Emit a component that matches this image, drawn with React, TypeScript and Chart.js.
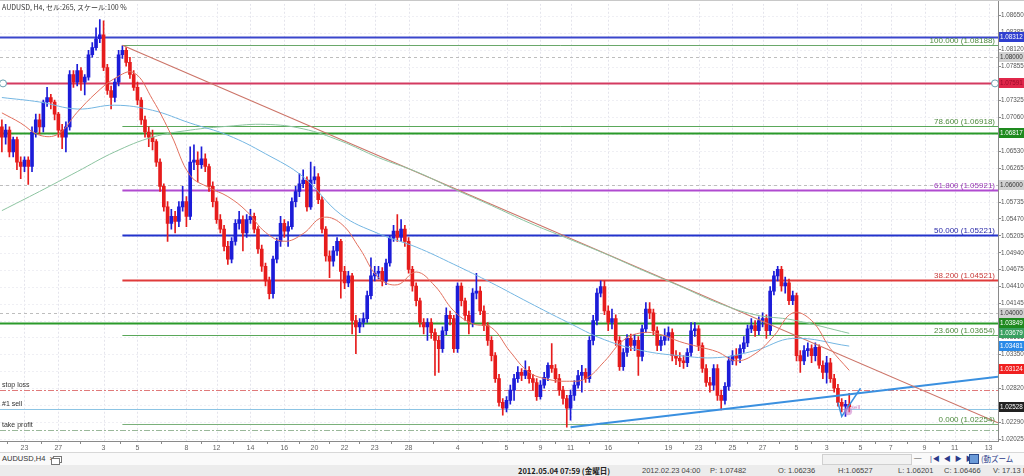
import React, { useEffect, useRef } from "react";
import { Chart, registerables } from "chart.js";
Chart.register(...registerables);

// ---------- candle data (AUDUSD H4) ----------
const opens = [
  1.0691, 1.0675, 1.0686, 1.0652, 1.0671, 1.0636, 1.0629, 1.0639, 1.0629, 1.0683,
  1.0702, 1.0691, 1.0730, 1.0737, 1.0730, 1.0711, 1.0686, 1.0675, 1.0691, 1.0773,
  1.0761, 1.0779, 1.0761, 1.0769, 1.0804, 1.0815, 1.0829, 1.0835, 1.0784, 1.0748,
  1.0737, 1.0761, 1.0804, 1.0811, 1.0792, 1.0773, 1.0753, 1.0733, 1.0702, 1.0683,
  1.0675, 1.0668, 1.0636, 1.0598, 1.0566, 1.0540, 1.0551, 1.0543, 1.0566, 1.0574,
  1.0551, 1.0636, 1.0639, 1.0632, 1.0641, 1.0629, 1.0598, 1.0574, 1.0546, 1.0531,
  1.0504, 1.0484, 1.0512, 1.0540, 1.0546, 1.0525, 1.0546, 1.0551, 1.0531, 1.0500,
  1.0473, 1.0450, 1.0430, 1.0484, 1.0512, 1.0540, 1.0528, 1.0535, 1.0574, 1.0590,
  1.0602, 1.0608, 1.0566, 1.0608, 1.0613, 1.0577, 1.0531, 1.0489, 1.0481, 1.0497,
  1.0512, 1.0465, 1.0447, 1.0458, 1.0388, 1.0378, 1.0385, 1.0391, 1.0427, 1.0458,
  1.0462, 1.0465, 1.0450, 1.0478, 1.0517, 1.0528, 1.0518, 1.0531, 1.0512, 1.0468,
  1.0442, 1.0419, 1.0385, 1.0378, 1.0385, 1.0369, 1.0357, 1.0344, 1.0372, 1.0396,
  1.0391, 1.0344, 1.0442, 1.0419, 1.0396, 1.0385, 1.0431, 1.0434, 1.0403, 1.0380,
  1.0357, 1.0333, 1.0297, 1.0260, 1.0251, 1.0263, 1.0279, 1.0297, 1.0307, 1.0302,
  1.0310, 1.0297, 1.0291, 1.0269, 1.0287, 1.0299, 1.0318, 1.0313, 1.0297, 1.0279,
  1.0266, 1.0251, 1.0271, 1.0287, 1.0302, 1.0307, 1.0297, 1.0357, 1.0388, 1.0431,
  1.0441, 1.0403, 1.0385, 1.0391, 1.0357, 1.0316, 1.0338, 1.0360, 1.0349, 1.0357,
  1.0332, 1.0375, 1.0406, 1.0400, 1.0372, 1.0349, 1.0357, 1.0363, 1.0369, 1.0333,
  1.0329, 1.0325, 1.0322, 1.0338, 1.0372, 1.0375, 1.0349, 1.0313, 1.0291, 1.0287,
  1.0313, 1.0271, 1.0263, 1.0285, 1.0325, 1.0333, 1.0329, 1.0344, 1.0353, 1.0375,
  1.0380, 1.0372, 1.0388, 1.0391, 1.0372, 1.0434, 1.0458, 1.0468, 1.0442, 1.0447,
  1.0419, 1.0427, 1.0333, 1.0325, 1.0341, 1.0344, 1.0333, 1.0346, 1.0318, 1.0307,
  1.0322, 1.0297, 1.0282, 1.0260, 1.0254, 1.0257,
];
const highs = [
  1.0702, 1.0695, 1.0691, 1.0675, 1.0675, 1.0644, 1.0644, 1.0644, 1.0691, 1.0711,
  1.0711, 1.0733, 1.0753, 1.0742, 1.0733, 1.0714, 1.0695, 1.0699, 1.0779, 1.0779,
  1.0789, 1.0784, 1.0773, 1.0811, 1.0823, 1.0846, 1.0859, 1.0857, 1.0789, 1.0755,
  1.0767, 1.0811, 1.0818, 1.0815, 1.0800, 1.0779, 1.0761, 1.0737, 1.0708, 1.0691,
  1.0686, 1.0671, 1.0641, 1.0602, 1.0574, 1.0562, 1.0559, 1.0574, 1.0598, 1.0582,
  1.0660, 1.0663, 1.0652, 1.0660, 1.0649, 1.0633, 1.0605, 1.0580, 1.0554, 1.0537,
  1.0512, 1.0518, 1.0546, 1.0559, 1.0552, 1.0554, 1.0562, 1.0556, 1.0535, 1.0506,
  1.0478, 1.0456, 1.0489, 1.0517, 1.0551, 1.0546, 1.0543, 1.0580, 1.0598, 1.0618,
  1.0624, 1.0613, 1.0636, 1.0629, 1.0618, 1.0582, 1.0535, 1.0497, 1.0504, 1.0518,
  1.0515, 1.0473, 1.0465, 1.0462, 1.0396, 1.0391, 1.0400, 1.0434, 1.0486, 1.0473,
  1.0473, 1.0471, 1.0484, 1.0521, 1.0537, 1.0554, 1.0546, 1.0537, 1.0518, 1.0473,
  1.0447, 1.0423, 1.0391, 1.0391, 1.0391, 1.0375, 1.0364, 1.0378, 1.0408, 1.0403,
  1.0396, 1.0447, 1.0447, 1.0423, 1.0403, 1.0438, 1.0462, 1.0441, 1.0411, 1.0385,
  1.0363, 1.0338, 1.0304, 1.0266, 1.0269, 1.0287, 1.0304, 1.0316, 1.0313, 1.0325,
  1.0316, 1.0304, 1.0297, 1.0294, 1.0307, 1.0322, 1.0352, 1.0319, 1.0304, 1.0285,
  1.0271, 1.0279, 1.0294, 1.0310, 1.0318, 1.0313, 1.0363, 1.0396, 1.0438, 1.0450,
  1.0450, 1.0411, 1.0406, 1.0397, 1.0363, 1.0344, 1.0366, 1.0367, 1.0366, 1.0363,
  1.0381, 1.0416, 1.0416, 1.0406, 1.0378, 1.0363, 1.0375, 1.0378, 1.0375, 1.0341,
  1.0338, 1.0333, 1.0344, 1.0385, 1.0385, 1.0380, 1.0353, 1.0319, 1.0299, 1.0319,
  1.0319, 1.0279, 1.0291, 1.0332, 1.0341, 1.0344, 1.0350, 1.0363, 1.0381, 1.0391,
  1.0388, 1.0394, 1.0400, 1.0397, 1.0441, 1.0465, 1.0473, 1.0473, 1.0456, 1.0453,
  1.0434, 1.0431, 1.0341, 1.0349, 1.0353, 1.0350, 1.0353, 1.0350, 1.0325, 1.0332,
  1.0329, 1.0304, 1.0288, 1.0266, 1.0263, 1.0274,
];
const lows = [
  1.0652, 1.0664, 1.0644, 1.0644, 1.0624, 1.0610, 1.0621, 1.0601, 1.0621, 1.0675,
  1.0680, 1.0683, 1.0723, 1.0719, 1.0702, 1.0675, 1.0657, 1.0652, 1.0686, 1.0753,
  1.0755, 1.0748, 1.0741, 1.0764, 1.0800, 1.0811, 1.0823, 1.0779, 1.0742, 1.0719,
  1.0730, 1.0755, 1.0798, 1.0786, 1.0767, 1.0748, 1.0726, 1.0695, 1.0675, 1.0660,
  1.0655, 1.0629, 1.0590, 1.0559, 1.0512, 1.0531, 1.0525, 1.0535, 1.0559, 1.0535,
  1.0546, 1.0624, 1.0605, 1.0626, 1.0621, 1.0590, 1.0566, 1.0540, 1.0525, 1.0497,
  1.0476, 1.0478, 1.0506, 1.0531, 1.0497, 1.0518, 1.0540, 1.0525, 1.0493, 1.0465,
  1.0442, 1.0422, 1.0423, 1.0478, 1.0504, 1.0518, 1.0504, 1.0531, 1.0566, 1.0582,
  1.0596, 1.0559, 1.0562, 1.0602, 1.0571, 1.0525, 1.0481, 1.0455, 1.0473, 1.0490,
  1.0423, 1.0438, 1.0441, 1.0367, 1.0336, 1.0369, 1.0378, 1.0385, 1.0422, 1.0450,
  1.0453, 1.0442, 1.0444, 1.0473, 1.0512, 1.0512, 1.0512, 1.0504, 1.0462, 1.0434,
  1.0411, 1.0378, 1.0367, 1.0357, 1.0360, 1.0302, 1.0307, 1.0338, 1.0366, 1.0381,
  1.0338, 1.0338, 1.0411, 1.0388, 1.0367, 1.0378, 1.0422, 1.0397, 1.0372, 1.0349,
  1.0325, 1.0291, 1.0254, 1.0240, 1.0245, 1.0257, 1.0263, 1.0291, 1.0294, 1.0297,
  1.0290, 1.0279, 1.0263, 1.0265, 1.0282, 1.0294, 1.0307, 1.0291, 1.0271, 1.0257,
  1.0221, 1.0232, 1.0263, 1.0282, 1.0276, 1.0291, 1.0291, 1.0350, 1.0381, 1.0425,
  1.0397, 1.0372, 1.0375, 1.0349, 1.0310, 1.0310, 1.0332, 1.0341, 1.0341, 1.0302,
  1.0325, 1.0369, 1.0391, 1.0366, 1.0341, 1.0341, 1.0350, 1.0357, 1.0325, 1.0319,
  1.0316, 1.0313, 1.0316, 1.0332, 1.0363, 1.0341, 1.0307, 1.0285, 1.0276, 1.0279,
  1.0263, 1.0248, 1.0257, 1.0279, 1.0319, 1.0318, 1.0322, 1.0338, 1.0347, 1.0369,
  1.0363, 1.0366, 1.0378, 1.0360, 1.0366, 1.0428, 1.0450, 1.0434, 1.0431, 1.0413,
  1.0413, 1.0325, 1.0307, 1.0319, 1.0332, 1.0322, 1.0325, 1.0313, 1.0297, 1.0290,
  1.0291, 1.0276, 1.0254, 1.0245, 1.0238, 1.0245,
];
const closes = [
  1.0675, 1.0686, 1.0652, 1.0671, 1.0636, 1.0629, 1.0639, 1.0629, 1.0683, 1.0702,
  1.0691, 1.0730, 1.0737, 1.0730, 1.0711, 1.0686, 1.0675, 1.0691, 1.0773, 1.0761,
  1.0779, 1.0761, 1.0769, 1.0804, 1.0815, 1.0829, 1.0835, 1.0784, 1.0748, 1.0737,
  1.0761, 1.0804, 1.0811, 1.0792, 1.0773, 1.0753, 1.0733, 1.0702, 1.0683, 1.0675,
  1.0668, 1.0636, 1.0598, 1.0566, 1.0540, 1.0551, 1.0543, 1.0566, 1.0574, 1.0551,
  1.0636, 1.0639, 1.0632, 1.0641, 1.0629, 1.0598, 1.0574, 1.0546, 1.0531, 1.0504,
  1.0484, 1.0512, 1.0540, 1.0546, 1.0525, 1.0546, 1.0551, 1.0531, 1.0500, 1.0473,
  1.0450, 1.0430, 1.0484, 1.0512, 1.0540, 1.0528, 1.0535, 1.0574, 1.0590, 1.0602,
  1.0608, 1.0566, 1.0608, 1.0613, 1.0577, 1.0531, 1.0489, 1.0481, 1.0497, 1.0512,
  1.0465, 1.0447, 1.0458, 1.0388, 1.0378, 1.0385, 1.0391, 1.0427, 1.0458, 1.0462,
  1.0465, 1.0450, 1.0478, 1.0517, 1.0528, 1.0518, 1.0531, 1.0512, 1.0468, 1.0442,
  1.0419, 1.0385, 1.0378, 1.0385, 1.0369, 1.0357, 1.0344, 1.0372, 1.0396, 1.0391,
  1.0344, 1.0442, 1.0419, 1.0396, 1.0385, 1.0431, 1.0434, 1.0403, 1.0380, 1.0357,
  1.0333, 1.0297, 1.0260, 1.0251, 1.0263, 1.0279, 1.0297, 1.0307, 1.0302, 1.0310,
  1.0297, 1.0291, 1.0269, 1.0287, 1.0299, 1.0318, 1.0313, 1.0297, 1.0279, 1.0266,
  1.0251, 1.0271, 1.0287, 1.0302, 1.0307, 1.0297, 1.0357, 1.0388, 1.0431, 1.0441,
  1.0403, 1.0385, 1.0391, 1.0357, 1.0316, 1.0338, 1.0360, 1.0349, 1.0357, 1.0332,
  1.0375, 1.0406, 1.0400, 1.0372, 1.0349, 1.0357, 1.0363, 1.0369, 1.0333, 1.0329,
  1.0325, 1.0322, 1.0338, 1.0372, 1.0375, 1.0349, 1.0313, 1.0291, 1.0287, 1.0313,
  1.0271, 1.0263, 1.0285, 1.0325, 1.0333, 1.0329, 1.0344, 1.0353, 1.0375, 1.0380,
  1.0372, 1.0388, 1.0391, 1.0372, 1.0434, 1.0458, 1.0468, 1.0442, 1.0447, 1.0419,
  1.0427, 1.0333, 1.0325, 1.0341, 1.0344, 1.0333, 1.0346, 1.0318, 1.0307, 1.0322,
  1.0297, 1.0282, 1.0260, 1.0254, 1.0257, 1.0253,
];

// ---------- moving averages (bar index / price) ----------
const maShortIdx = [
  0, 5, 10, 15, 20, 25, 30, 35, 40, 45, 50, 55, 60, 65, 70, 75, 80, 85, 90, 95,
  100, 105, 110, 115, 120, 125, 130, 135, 140, 145, 150, 155, 160, 165, 170, 175,
  180, 185, 190, 195, 200, 205, 210, 215, 220, 225,
];
const maShortVals = [
  1.0713, 1.0697, 1.0678, 1.0680, 1.0714, 1.0744, 1.0767, 1.0776, 1.0734, 1.0678,
  1.0615, 1.0596, 1.0582, 1.0559, 1.0526, 1.0512, 1.0524, 1.0549, 1.0540, 1.0501,
  1.0455, 1.0444, 1.0464, 1.0442, 1.0403, 1.0383, 1.0377, 1.0339, 1.0307, 1.0296,
  1.0293, 1.0297, 1.0324, 1.0357, 1.0369, 1.0366, 1.0355, 1.0347, 1.0339, 1.0325,
  1.0336, 1.0364, 1.0400, 1.0388, 1.0344, 1.0310,
];
const maIdx = [
  0, 10, 20, 30, 40, 50, 60, 70, 80, 90, 100, 110, 120, 130, 140, 150, 160, 170,
  180, 190, 200, 210, 225,
];
const maMidVals = [
  1.0737, 1.0730, 1.0719, 1.0725, 1.0717, 1.0697, 1.0678, 1.0649, 1.0613, 1.0554,
  1.0524, 1.0503, 1.0476, 1.0447, 1.0416, 1.0386, 1.0358, 1.0341, 1.0333, 1.0330,
  1.0341, 1.0360, 1.0348,
];
const maLongVals = [
  1.0560, 1.0590, 1.0621, 1.0652, 1.0675, 1.0686, 1.0692, 1.0695, 1.0688, 1.0669,
  1.0643, 1.0621, 1.0594, 1.0568, 1.0541, 1.0517, 1.0493, 1.0467, 1.0442, 1.0416,
  1.0397, 1.0389, 1.0368,
];

// ---------- drawn objects ----------
const downTrendIdx = [32, 264.5];
const downTrendVals = [1.08188, 1.0228];
const supportIdx = [151, 264.5];
const supportVals = [1.0221, 1.03];
const checkIdx = [222, 223, 228];
const checkVals = [1.026, 1.0238, 1.0282];

const fibLevels = [100, 78.6, 61.8, 50, 38.2, 23.6, 0];
const fibPrices = [1.08188, 1.06918, 1.05921, 1.05221, 1.04521, 1.03654, 1.02254];
const fibStartIdx = 32;

const fullLevels = [1.08312, 1.07591, 1.06817, 1.03849];
const roundLevels = [1.08, 1.06, 1.04];
const orderNames = ["stop loss", "#1 sell", "take profit"];
const orderPrices = [1.028, 1.0249, 1.0217];
const sellMarkIdx = 224.7;
const sellMarkPrice = 1.0246;

const tagValues = [
  1.08312, 1.08, 1.07591, 1.06817, 1.06, 1.04, 1.03849, 1.03679, 1.03481, 1.03124, 1.02528,
];

const xTickIndex = [
  6, 15, 27, 36, 49, 57, 66, 75, 83, 91, 99, 108, 121, 134, 143, 151, 161, 177, 185,
  194, 202, 211, 219, 228, 236, 245, 253, 262,
];
const xTickLabels = [
  "23", "27", "3", "5", "8", "12", "14", "16", "20", "22", "23", "28", "4", "5", "9",
  "11", "16", "19", "23", "25", "27", "5", "3", "5", "7", "9", "11", "13",
];
const yTickValues = [
  1.02025, 1.0229, 1.02555, 1.0282, 1.03085, 1.0335, 1.03615, 1.0388, 1.04145, 1.0441,
  1.04675, 1.0494, 1.05205, 1.0547, 1.05735, 1.06, 1.06265, 1.0653, 1.06795, 1.0706,
  1.07325, 1.0759, 1.07855, 1.0812, 1.08385, 1.0865,
];

// ---------- styles ----------
const UP = "#1c1cd8";
const DOWN = "#e61c1c";
const FONT = "'Liberation Sans', 'DejaVu Sans', sans-serif";
const AXIS_FONT = 6.3;
const fibColors = ["#6aa86a", "#5aa85a", "#b04ad0", "#2233cc", "#e03a3a", "#5aa85a", "#7ab07a"];
const fibTextColors = ["#4e8a3e", "#4e8a3e", "#9a3ab8", "#2a2aa8", "#c83a3a", "#4e8a3e", "#4e8a3e"];
const fibWidths = [1, 1, 2, 2, 2, 1, 1];
const fullColors = ["#3a46cc", "#d43a60", "#2a9a2a", "#2a9a2a"];
const orderColors = ["#e07a7a", "#8cc4e4", "#9ab89a"];
const orderDash = [[6, 2, 2, 2], [], [6, 2, 2, 2]];
const tagBg = ["#2f3fd0", "#d2d2d2", "#e0264a", "#1e8a1e", "#d2d2d2", "#d2d2d2", "#1e8a1e", "#3aa060", "#2a8ae8", "#f02020", "#202020"];
const tagFg = ["#fff", "#333", "#9a0a28", "#fff", "#333", "#333", "#fff", "#fff", "#fff", "#fff", "#fff"];

const overlay = {
  id: "fxOverlay",
  beforeDatasetsDraw(chart: any) {
    const { ctx, chartArea: a, scales } = chart;
    const x = scales.x;
    const y = scales.y;
    const hline = (p: number, x0: number, x1: number) => {
      const py = Math.round(y.getPixelForValue(p)) + 0.5;
      ctx.beginPath();
      ctx.moveTo(x0, py);
      ctx.lineTo(x1, py);
      ctx.stroke();
    };
    ctx.save();
    ctx.beginPath();
    ctx.rect(a.left, a.top, a.right - a.left, a.bottom - a.top);
    ctx.clip();
    ctx.lineWidth = 1;
    ctx.strokeStyle = "#e4e4ec";
    ctx.setLineDash([2, 2]);
    xTickIndex.forEach((v) => {
      const px = Math.round(x.getPixelForValue(v)) + 0.5;
      ctx.beginPath();
      ctx.moveTo(px, a.top);
      ctx.lineTo(px, a.bottom);
      ctx.stroke();
    });
    ctx.strokeStyle = "#efeff4";
    yTickValues.forEach((v) => hline(v, a.left, a.right));
    ctx.strokeStyle = "#bdbdbd";
    ctx.setLineDash([3, 3]);
    roundLevels.forEach((v) => hline(v, a.left, a.right));
    ctx.setLineDash([]);
    const fx = x.getPixelForValue(fibStartIdx);
    fibPrices.forEach((p, k) => {
      ctx.strokeStyle = fibColors[k];
      ctx.lineWidth = fibWidths[k];
      hline(p, fx, a.right);
    });
    fullLevels.forEach((p, k) => {
      ctx.strokeStyle = fullColors[k];
      ctx.lineWidth = 2;
      hline(p, a.left, a.right);
    });
    orderPrices.forEach((p, k) => {
      ctx.strokeStyle = orderColors[k];
      ctx.lineWidth = 1;
      ctx.setLineDash(orderDash[k]);
      hline(p, a.left, a.right);
    });
    ctx.restore();
  },
  afterDatasetsDraw(chart: any) {
    const { ctx, chartArea: a, scales } = chart;
    const x = scales.x;
    const y = scales.y;
    ctx.save();
    ctx.font = `8px ${FONT}`;
    ctx.textAlign = "right";
    ctx.textBaseline = "alphabetic";
    fibPrices.forEach((p, k) => {
      const py = y.getPixelForValue(p);
      ctx.fillStyle = fibTextColors[k];
      ctx.fillText(`${fibLevels[k].toFixed(3)} (${p.toFixed(5)})`, a.right - 3, py - 2);
    });
    ctx.textAlign = "left";
    ctx.font = `7px ${FONT}`;
    ctx.fillStyle = "#333";
    orderPrices.forEach((p, k) => {
      const py = y.getPixelForValue(p);
      ctx.fillText(orderNames[k], 2, py - 3);
    });
    const cy = y.getPixelForValue(fullLevels[1]);
    [a.left + 3, a.right - 3].forEach((cx) => {
      ctx.beginPath();
      ctx.arc(cx, cy, 3.5, 0, Math.PI * 2);
      ctx.fillStyle = "#fff";
      ctx.fill();
      ctx.strokeStyle = "#6aa0b0";
      ctx.lineWidth = 1;
      ctx.stroke();
    });
    const sx = x.getPixelForValue(sellMarkIdx);
    const sy = y.getPixelForValue(sellMarkPrice);
    ctx.beginPath();
    ctx.arc(sx, sy, 4, 0, Math.PI * 2);
    ctx.fillStyle = "rgba(200,120,200,0.55)";
    ctx.fill();
    ctx.fillStyle = "#d080c0";
    ctx.font = `6px ${FONT}`;
    ctx.fillText("sell", sx + 3, sy - 2);
    ctx.restore();
  },
  afterDraw(chart: any) {
    const { ctx, chartArea: a, scales } = chart;
    const y = scales.y;
    ctx.save();
    ctx.strokeStyle = "#8a8a8a";
    ctx.lineWidth = 1;
    ctx.beginPath();
    ctx.moveTo(a.right + 0.5, 0);
    ctx.lineTo(a.right + 0.5, a.bottom + 1);
    ctx.moveTo(0, a.bottom + 0.5);
    ctx.lineTo(a.right + 1, a.bottom + 0.5);
    ctx.stroke();
    ctx.strokeStyle = "#c8c8c8";
    ctx.beginPath();
    ctx.moveTo(0, 0.5);
    ctx.lineTo(1024, 0.5);
    ctx.stroke();
    ctx.font = `${AXIS_FONT}px ${FONT}`;
    ctx.textBaseline = "middle";
    ctx.textAlign = "left";
    tagValues.forEach((v, k) => {
      const py = Math.round(y.getPixelForValue(v));
      ctx.fillStyle = tagBg[k];
      ctx.fillRect(a.right + 1, py - 5, 25, 10);
      ctx.fillStyle = tagFg[k];
      ctx.fillText(v.toFixed(5), a.right + 2, py + 0.5);
    });
    ctx.fillStyle = "#333";
    ctx.font = `7px 'Noto Sans CJK JP', ${FONT}`;
    ctx.fillText("AUDUSD, H4, セル:265, スケール:100 %", 2, 7);
    ctx.restore();
  },
};

function buildConfig(): any {
  const colors = opens.map((o, i) => (closes[i] >= o ? UP : DOWN));
  const pts = (idx: number[], vals: number[]) => idx.map((v, k) => ({ x: v, y: vals[k] }));
  const line = (data: any[], color: string, width: number, tension: number) => ({
    type: "line",
    data,
    borderColor: color,
    borderWidth: width,
    pointRadius: 0,
    tension,
    order: 0,
  });
  return {
    type: "bar",
    data: {
      datasets: [
        line(pts(maShortIdx, maShortVals), "#e2705e", 1, 0.4),
        line(pts(maIdx, maMidVals), "#74b6e2", 1, 0.4),
        line(pts(maIdx, maLongVals), "#8cc4a0", 1, 0.4),
        line(pts(downTrendIdx, downTrendVals), "#cc7468", 1.2, 0),
        line(pts(supportIdx, supportVals), "#3a90e0", 2, 0),
        line(pts(checkIdx, checkVals), "#3a90e0", 1.5, 0),
        {
          type: "bar",
          data: opens.map((o, i) => ({ x: i, y: [lows[i], highs[i]] })),
          backgroundColor: colors,
          barThickness: 1,
          grouped: false,
          order: 2,
        },
        {
          type: "bar",
          data: opens.map((o, i) => ({ x: i, y: [o, closes[i]] })),
          backgroundColor: colors,
          barThickness: 3,
          grouped: false,
          borderWidth: 0,
          order: 1,
        },
      ],
    },
    options: {
      responsive: false,
      maintainAspectRatio: false,
      devicePixelRatio: 1,
      animation: false,
      layout: { padding: { top: 1, left: 0, right: 0, bottom: 0 } },
      plugins: { legend: { display: false }, tooltip: { enabled: false } },
      scales: {
        x: {
          type: "linear",
          min: -0.5,
          max: 264.5,
          offset: false,
          bounds: "data",
          grid: { display: true, drawOnChartArea: false, drawTicks: true, tickLength: 3, color: "#8a8a8a" },
          border: { display: false },
          ticks: {
            autoSkip: false,
            maxRotation: 0,
            padding: 0,
            color: "#666",
            font: { size: 7, family: FONT },
            callback: (_v: any, i: number) => xTickLabels[i] ?? "",
          },
          afterBuildTicks: (s: any) => {
            s.ticks = xTickIndex.map((v) => ({ value: v }));
          },
          afterFit: (s: any) => {
            s.height = 11;
          },
        },
        y: {
          type: "linear",
          position: "right",
          min: 1.01995,
          max: 1.08837,
          bounds: "data",
          grid: { display: true, drawOnChartArea: false, drawTicks: true, tickLength: 3, color: "#8a8a8a" },
          border: { display: false },
          ticks: {
            padding: 0,
            color: "#555",
            font: { size: AXIS_FONT, family: FONT },
            callback: (v: any) => Number(v).toFixed(5),
          },
          afterBuildTicks: (s: any) => {
            s.ticks = yTickValues.map((v) => ({ value: v }));
          },
          afterFit: (s: any) => {
            s.width = 26;
          },
        },
      },
    },
    plugins: [overlay],
  };
}

const statusCells: [string, number, boolean][] = [
  ["2012.05.04 07:59 (金曜日)", 518, true],
  ["2012.02.23 04:00", 642, false],
  ["P: 1.07482", 710, false],
  ["O: 1.06236", 778, false],
  ["H:1.06527", 838, false],
  ["L: 1.06201", 898, false],
  ["C: 1.06466", 944, false],
  ["V: 17.13 B", 993, false],
];

export default function App() {
  const ref = useRef<HTMLCanvasElement>(null);
  useEffect(() => {
    const chart = new Chart(ref.current as HTMLCanvasElement, buildConfig());
    return () => chart.destroy();
  }, []);
  const small: React.CSSProperties = {
    position: "absolute",
    fontFamily: "'Liberation Sans', 'Noto Sans CJK JP', sans-serif",
    fontSize: 7.5,
    lineHeight: "11px",
    whiteSpace: "nowrap",
    color: "#333",
  };
  return (
    <div
      style={{
        position: "fixed",
        left: 0,
        top: 0,
        width: 1024,
        height: 476,
        background: "#fff",
        overflow: "hidden",
      }}
    >
      <canvas ref={ref} width={1024} height={452} style={{ display: "block", width: 1024, height: 452 }} />
      <div
        style={{
          position: "absolute",
          left: 0,
          top: 452,
          width: 1024,
          height: 13,
          background: "#fafafa",
          borderTop: "1px solid #d8d8d8",
          boxSizing: "border-box",
        }}
      >
        <span style={{ ...small, left: 2, top: 0 }}>AUDUSD,H4&nbsp;&nbsp;×</span>
        <span style={{ position: "absolute", left: 53, top: 3, width: 7, height: 5, border: "1px solid #777", background: "#fff" }} />
        <span style={{ position: "absolute", left: 51, top: 5, width: 7, height: 5, border: "1px solid #777", background: "#fff" }} />
        <span style={{ position: "absolute", left: 822, top: 1, width: 88, height: 9, border: "1px solid #d0d0d0", background: "#f2f2f2" }} />
        <span style={{ ...small, left: 914, top: -1, color: "#555" }}>—</span>
        <span style={{ ...small, left: 930, top: 0, color: "#2a3a8a", fontSize: 7, letterSpacing: 1 }}>|◀ ◀ ▶ ▶|</span>
        <span style={{ position: "absolute", left: 969, top: 1, width: 8, height: 8, background: "#6a9ad8", border: "1px solid #2a4a8a" }} />
        <span style={{ ...small, left: 981, top: 0, color: "#2a3a8a", fontFamily: "'Noto Sans CJK JP', sans-serif" }}>(動ズーム</span>
      </div>
      <div style={{ position: "absolute", left: 0, top: 465, width: 1024, height: 11, background: "#ececec" }}>
        {statusCells.map(([t, left, bold], k) => (
          <span
            key={k}
            style={{
              ...small,
              left,
              top: 0,
              fontWeight: bold ? 700 : 400,
              color: bold ? "#222" : "#444",
              fontFamily: bold ? "'Noto Sans CJK JP', sans-serif" : small.fontFamily,
            }}
          >
            {t}
          </span>
        ))}
      </div>
    </div>
  );
}
